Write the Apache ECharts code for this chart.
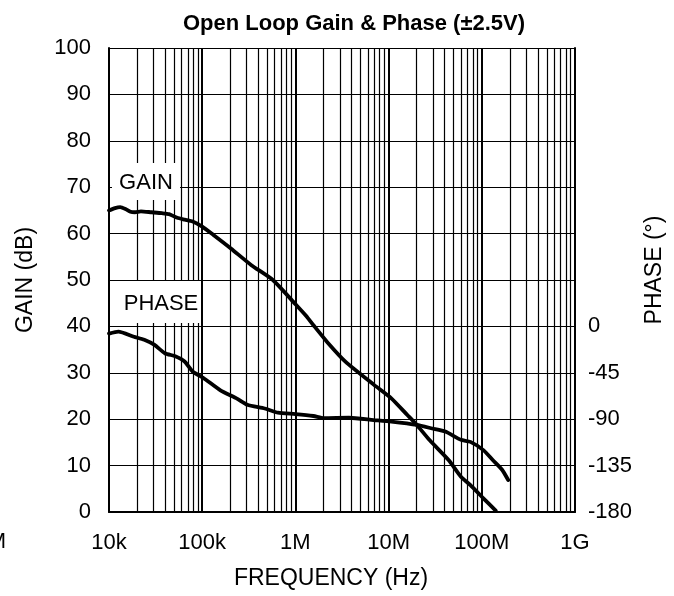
<!DOCTYPE html>
<html>
<head>
<meta charset="utf-8">
<script src="https://cdn.jsdelivr.net/npm/echarts@6/dist/echarts.min.js"></script>
<style>
  html, body { margin: 0; padding: 0; background: #fff; }
  #chart { width: 674px; height: 596px; }
</style>
</head>
<body>
<div id="chart"></div>
<script>
// Frequency axis (log) ticks and their labels
const freqTicks = [1e4, 1e5, 1e6, 1e7, 1e8, 1e9];
const freqTickLabels = ['10k', '100k', '1M', '10M', '100M', '1G'];
// Intermediate grid lines inside every decade (2x ... 9x)
const minorMultipliers = [2, 3, 4, 5, 6, 7, 8, 9];

// Phase axis labels that are shown on the right side
const phaseTickLabels = ['-180', '-135', '-90', '-45', '0'];

// Open-loop gain (dB) vs frequency (Hz)
const gainFreq = [1.0e4, 1.16e4, 1.32e4, 1.5e4, 1.7e4, 1.9e4, 2.2e4, 2.85e4, 3.7e4, 4.4e4, 5.4e4, 6.5e4,
  7.9e4, 1.0e5, 1.32e5, 2.03e5, 3.37e5, 5.73e5, 1.0e6, 1.3e6, 1.57e6, 2.2e6, 3.44e6, 6.97e6,
  1.07e7, 1.59e7, 2.01e7, 2.75e7, 4.4e7, 5.97e7, 7.55e7, 1.04e8, 1.41e8];
const gainDb = [65.0, 65.5, 65.7, 65.3, 64.7, 64.6, 64.8, 64.6, 64.4, 64.2, 63.4, 63.0,
  62.6, 61.5, 59.7, 56.8, 53.2, 50.0, 44.8, 42.3, 40.2, 36.6, 32.4, 27.4,
  24.5, 20.9, 18.75, 15.5, 11.2, 7.6, 5.8, 2.95, 0.3];

// Open-loop phase (degrees) vs frequency (Hz)
const phaseFreq = [1.0e4, 1.26e4, 1.85e4, 2.39e4, 3.08e4, 3.98e4, 5.14e4, 6.47e4, 7.94e4, 1.03e5,
  1.57e5, 2.36e5, 3.05e5, 4.68e5, 6.5e5, 1.0e6, 1.56e6, 2.03e6, 3.76e6, 6.9e6, 1.07e7, 2.01e7,
  2.94e7, 4.06e7, 5.97e7, 7.55e7, 1.04e8, 1.31e8, 1.65e8, 1.92e8];
const phaseDeg = [-7, -5, -10, -13, -18, -26, -29, -34, -44, -50,
  -62, -70, -76, -79.6, -83.7, -85, -86.9, -89, -88.6, -90.8, -92.4, -95.6,
  -99, -102, -110, -112, -120, -129.6, -139, -149];

const FONT = '"Liberation Sans", Arial, Helvetica, sans-serif';
const GRID_COLOR = '#000';

const minorFreqs = [];
for (let d = 0; d < freqTicks.length - 1; d++) {
  for (const m of minorMultipliers) minorFreqs.push(freqTicks[d] * m);
}

const chart = echarts.init(document.getElementById('chart'), null, { renderer: 'canvas' });

const option = {
  animation: false,
  backgroundColor: '#fff',
  textStyle: { fontFamily: FONT },
  title: {
    text: 'Open Loop Gain & Phase (±2.5V)',
    left: 349,
    top: 8,
    textAlign: 'center',
    textStyle: { fontFamily: FONT, fontSize: 22, fontWeight: 'bold', color: '#000' }
  },
  grid: { left: 109, right: 99, top: 48, bottom: 84, containLabel: false },
  xAxis: {
    type: 'log',
    logBase: 10,
    min: 1e4,
    max: 1e9,
    splitNumber: 5,
    name: 'FREQUENCY (Hz)',
    nameLocation: 'middle',
    nameGap: 55,
    nameTextStyle: { fontFamily: FONT, fontSize: 23, color: '#000', padding: [0, 22, 0, 0] },
    axisLine: { show: true, lineStyle: { color: '#000', width: 2 } },
    axisTick: { show: false },
    axisLabel: {
      margin: 20,
      fontFamily: FONT, fontSize: 22, color: '#000',
      formatter: function (v) {
        const i = freqTicks.findIndex(t => Math.abs(Math.log10(t) - Math.log10(v)) < 1e-6);
        return i >= 0 ? freqTickLabels[i] : '';
      }
    },
    splitLine: { show: true, lineStyle: { color: GRID_COLOR, width: 2 } }
  },
  yAxis: [
    {
      type: 'value',
      min: 0, max: 100, interval: 10,
      position: 'left',
      name: 'GAIN (dB)',
      nameLocation: 'middle',
      nameGap: 72,
      nameRotate: 90,
      nameTextStyle: { fontFamily: FONT, fontSize: 23, color: '#000' },
      axisLine: { show: true, lineStyle: { color: '#000', width: 2 } },
      axisTick: { show: false },
      axisLabel: { margin: 18, fontFamily: FONT, fontSize: 22, color: '#000' },
      splitLine: { show: true, lineStyle: { color: GRID_COLOR, width: 1.2 } }
    },
    {
      type: 'value',
      min: -180, max: 270, interval: 45,
      position: 'right',
      name: 'PHASE (°)',
      nameLocation: 'middle',
      nameGap: 59,
      nameRotate: 90,
      nameTextStyle: { fontFamily: FONT, fontSize: 23, color: '#000', padding: [0, 0, 0, 20] },
      axisLine: { show: true, lineStyle: { color: '#000', width: 2 } },
      axisTick: { show: false },
      axisLabel: {
        margin: 13, fontFamily: FONT, fontSize: 22, color: '#000',
        formatter: function (v) {
          const s = String(Math.round(v));
          return phaseTickLabels.indexOf(s) >= 0 ? s : '';
        }
      },
      splitLine: { show: false }
    }
  ],
  series: [
    {
      // intermediate vertical grid lines of the log frequency axis
      type: 'line',
      data: [],
      z: 1,
      silent: true,
      markLine: {
        silent: true,
        animation: false,
        symbol: ['none', 'none'],
        label: { show: false },
        emphasis: { disabled: true },
        lineStyle: { color: GRID_COLOR, width: 1.2, type: 'solid', opacity: 1 },
        data: minorFreqs.map(f => ({ xAxis: f }))
      }
    },
    {
      name: 'GAIN',
      type: 'line',
      yAxisIndex: 0,
      z: 5,
      showSymbol: false,
      silent: true,
      smooth: 0.2,
      lineStyle: { color: '#000', width: 3.8, cap: 'round', join: 'round' },
      data: gainFreq.map((f, i) => [f, gainDb[i]])
    },
    {
      name: 'PHASE',
      type: 'line',
      yAxisIndex: 1,
      z: 5,
      showSymbol: false,
      silent: true,
      smooth: 0.2,
      lineStyle: { color: '#000', width: 3.8, cap: 'round', join: 'round' },
      data: phaseFreq.map((f, i) => [f, phaseDeg[i]])
    }
  ],
  graphic: [
    { type: 'rect', z: 100, shape: { x: 112, y: 163, width: 68, height: 37 }, style: { fill: '#fff' } },
    { type: 'text', z: 101, x: 146, y: 183, style: { text: 'GAIN', fontFamily: FONT, fontSize: 22, fill: '#000', align: 'center', verticalAlign: 'middle' } },
    { type: 'rect', z: 100, shape: { x: 110, y: 281, width: 91, height: 42 }, style: { fill: '#fff' } },
    { type: 'text', z: 101, x: 161, y: 304, style: { text: 'PHASE', fontFamily: FONT, fontSize: 22, fill: '#000', align: 'center', verticalAlign: 'middle' } },
    { type: 'text', z: 101, x: 6, y: 542, style: { text: '1M', fontFamily: FONT, fontSize: 22, fill: '#000', align: 'right', verticalAlign: 'middle' } }
  ]
};

chart.setOption(option);
</script>
</body>
</html>
